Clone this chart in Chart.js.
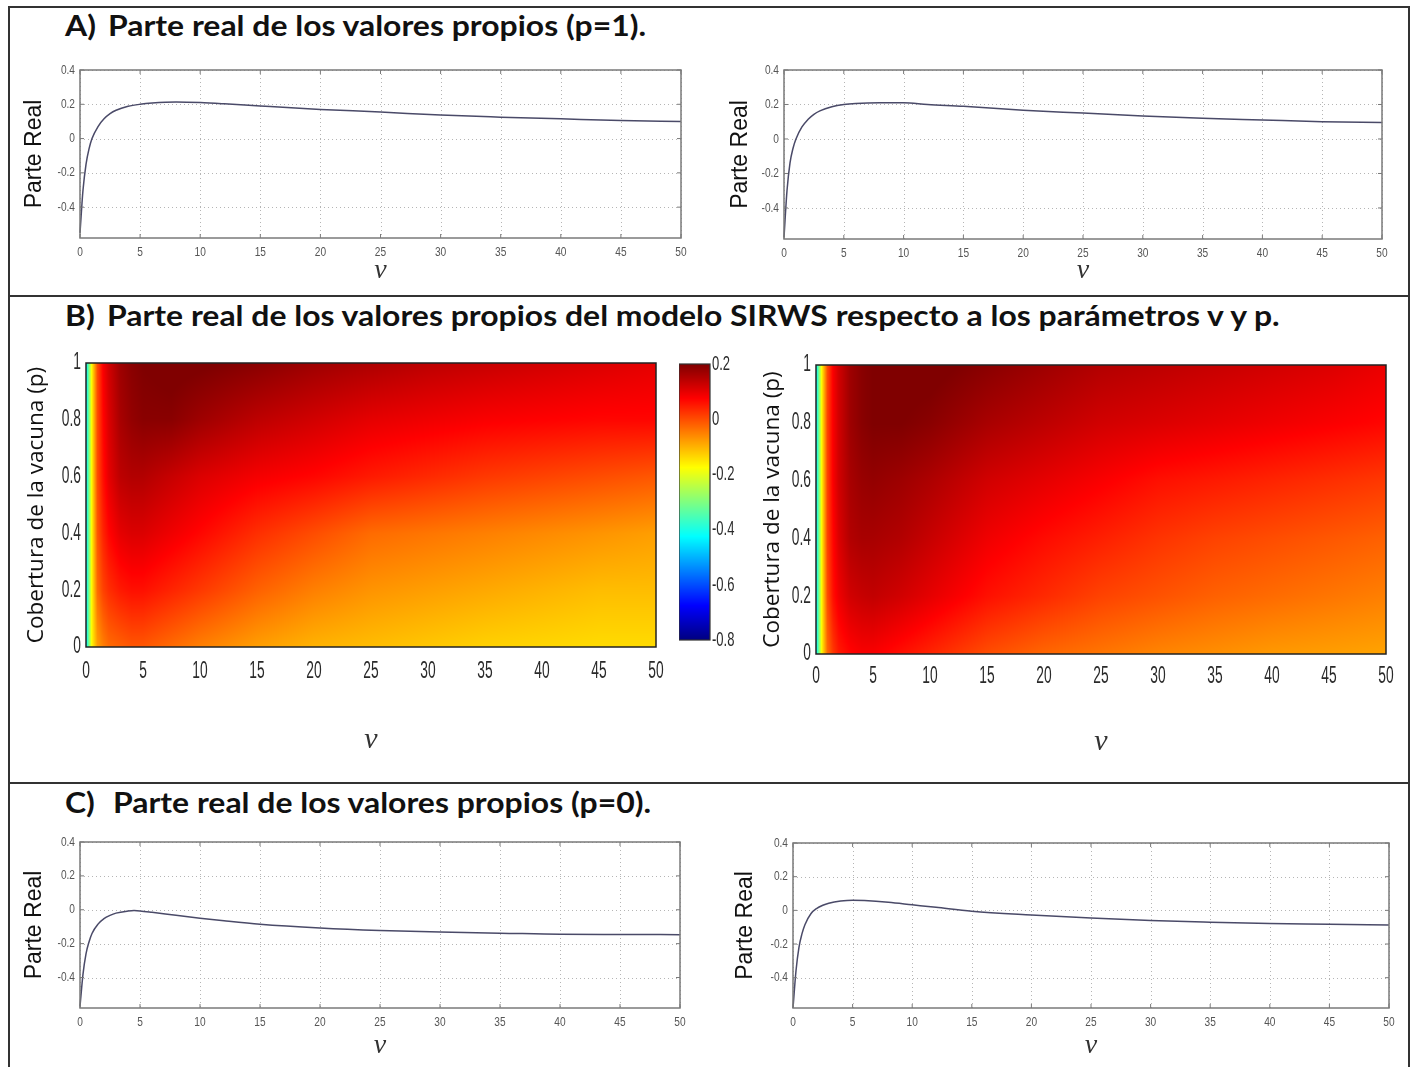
<!DOCTYPE html>
<html>
<head>
<meta charset="utf-8">
<script src="https://cdn.jsdelivr.net/npm/chart.js@4.4.0/dist/chart.umd.min.js"></script>
<style>
body { margin: 0; background: #fff; }
#page { position: relative; width: 1414px; height: 1067px; overflow: hidden; font-family: Lato, sans-serif; }
.frame { position: absolute; left: 8px; top: 6px; width: 1398px; height: 1100px; border: 2px solid #333; }
.rule { position: absolute; left: 8px; width: 1402px; height: 2px; background: #333; }
.ttl { position: absolute; font-weight: 700; font-size: 28px; line-height: 30px; color: #111; white-space: nowrap;
       transform: scaleX(1.14); transform-origin: 0 50%; }
canvas { position: absolute; }
</style>
</head>
<body>
<div id="page">
  <div class="frame"></div>
  <div class="rule" style="top:295px"></div>
  <div class="rule" style="top:782px"></div>

  <span class="ttl" style="left:65px;top:10px">A)</span>
  <span class="ttl" style="left:108px;top:10px">Parte real de los valores propios (p=1).</span>
  <span class="ttl" style="left:65px;top:300px">B)</span>
  <span class="ttl" style="left:107px;top:300px">Parte real de los valores propios del modelo SIRWS respecto a los parámetros v y p.</span>
  <span class="ttl" style="left:65px;top:787px">C)</span>
  <span class="ttl" style="left:113px;top:787px">Parte real de los valores propios (p=0).</span>

  <canvas id="lineA1"></canvas>
  <canvas id="lineA2"></canvas>
  <canvas id="heatB1"></canvas>
  <canvas id="barB1"></canvas>
  <canvas id="heatB2"></canvas>
  <canvas id="lineC1"></canvas>
  <canvas id="lineC2"></canvas>
</div>

<script>
// ticks
const vTicks = [0, 5, 10, 15, 20, 25, 30, 35, 40, 45, 50];
const realTicks = [-0.4, -0.2, 0, 0.2, 0.4];
const pTicks = [0, 0.2, 0.4, 0.6, 0.8, 1];
const colorTicks = [-0.8, -0.6, -0.4, -0.2, 0, 0.2];

// A) p=1
const vA = [0, 0.25, 0.5, 0.75, 1, 1.5, 2, 2.5, 3, 4, 5, 6, 8, 10, 12, 15, 20, 25, 30, 35, 40, 45, 50];
const reA1 = [-0.55, -0.3, -0.15, -0.06, 0.0, 0.07, 0.115, 0.145, 0.165, 0.188, 0.2, 0.207, 0.213, 0.21, 0.203, 0.19, 0.17, 0.155, 0.137, 0.125, 0.115, 0.105, 0.1];
const reA2 = [-0.57, -0.3, -0.14, -0.055, 0.0, 0.07, 0.113, 0.143, 0.163, 0.187, 0.2, 0.206, 0.21, 0.21, 0.2, 0.19, 0.167, 0.15, 0.133, 0.12, 0.11, 0.1, 0.095];

// C) p=0
const vC1 = [0, 0.25, 0.5, 0.75, 1, 1.5, 2, 2.5, 3, 4, 4.5, 5, 6, 8, 10, 12, 15, 20, 25, 30, 35, 40, 45, 50];
const reC1 = [-0.57, -0.38, -0.26, -0.19, -0.14, -0.085, -0.052, -0.033, -0.02, -0.008, -0.005, -0.007, -0.015, -0.033, -0.05, -0.065, -0.085, -0.107, -0.122, -0.132, -0.138, -0.145, -0.146, -0.147];
const vC2 = [0, 0.25, 0.5, 0.75, 1, 1.5, 2, 2.5, 3, 4, 5, 6, 8, 10, 12, 15, 20, 25, 30, 35, 40, 45, 50];
const reC2 = [-0.58, -0.36, -0.22, -0.14, -0.085, -0.02, 0.012, 0.03, 0.042, 0.055, 0.06, 0.058, 0.048, 0.033, 0.018, -0.005, -0.027, -0.045, -0.06, -0.07, -0.078, -0.082, -0.087];

// B) heatmaps, rows = heatP, columns = heatV
const heatV = [0, 0.5, 1, 1.5, 2, 3, 4, 5, 7.5, 10, 15, 20, 25, 30, 35, 40, 45, 50];
const heatP = [0, 0.2, 0.4, 0.6, 0.8, 1];
const heatLeft = [
  [-0.45, -0.17, -0.08, -0.05, -0.03, -0.02, -0.01, -0.01, -0.03, -0.05, -0.08, -0.10, -0.11, -0.12, -0.13, -0.135, -0.14, -0.14],
  [-0.45, -0.17, -0.03, 0.01, 0.03, 0.05, 0.06, 0.06, 0.04, 0.02, -0.02, -0.05, -0.07, -0.08, -0.09, -0.10, -0.11, -0.11],
  [-0.45, -0.17, -0.01, 0.04, 0.07, 0.10, 0.11, 0.11, 0.09, 0.07, 0.03, 0.00, -0.03, -0.04, -0.05, -0.06, -0.07, -0.08],
  [-0.45, -0.17, 0.00, 0.06, 0.10, 0.14, 0.15, 0.15, 0.13, 0.11, 0.085, 0.07, 0.05, 0.035, 0.02, 0.01, 0.00, -0.01],
  [-0.45, -0.17, 0.00, 0.07, 0.11, 0.16, 0.18, 0.19, 0.19, 0.17, 0.14, 0.12, 0.10, 0.09, 0.08, 0.075, 0.07, 0.07],
  [-0.45, -0.17, 0.00, 0.08, 0.12, 0.17, 0.19, 0.20, 0.21, 0.205, 0.19, 0.17, 0.155, 0.14, 0.13, 0.12, 0.11, 0.10]
];
const heatRight = [
  [-0.45, -0.17, -0.03, 0.02, 0.05, 0.07, 0.08, 0.08, 0.06, 0.04, 0.00, -0.025, -0.04, -0.055, -0.065, -0.075, -0.08, -0.085],
  [-0.45, -0.17, 0.00, 0.06, 0.09, 0.12, 0.13, 0.135, 0.12, 0.10, 0.06, 0.035, 0.01, -0.005, -0.02, -0.03, -0.04, -0.05],
  [-0.45, -0.17, 0.01, 0.07, 0.11, 0.15, 0.16, 0.16, 0.15, 0.13, 0.09, 0.065, 0.045, 0.025, 0.01, 0.00, -0.01, -0.02],
  [-0.45, -0.17, 0.01, 0.08, 0.12, 0.16, 0.175, 0.18, 0.17, 0.155, 0.12, 0.10, 0.08, 0.06, 0.05, 0.04, 0.03, 0.02],
  [-0.45, -0.17, 0.01, 0.08, 0.12, 0.17, 0.19, 0.20, 0.20, 0.19, 0.16, 0.14, 0.12, 0.11, 0.10, 0.09, 0.08, 0.07],
  [-0.45, -0.17, 0.00, 0.08, 0.12, 0.17, 0.19, 0.20, 0.21, 0.21, 0.19, 0.17, 0.15, 0.14, 0.13, 0.12, 0.11, 0.095]
];
const cMin = -0.8, cMax = 0.2;

const fmt = v => String(Math.round(v * 10) / 10);

function jet(t) {
  t = Math.max(0, Math.min(1, t));
  const c = k => Math.max(0, Math.min(1, 1.5 - Math.abs(4 * t - k)));
  return [c(3) * 255, c(2) * 255, c(1) * 255];
}

function sampleGrid(xs, ys, grid, x, y) {
  let i = 0, j = 0;
  while (i < xs.length - 2 && x > xs[i + 1]) i++;
  while (j < ys.length - 2 && y > ys[j + 1]) j++;
  const fx = Math.max(0, Math.min(1, (x - xs[i]) / (xs[i + 1] - xs[i])));
  const fy = Math.max(0, Math.min(1, (y - ys[j]) / (ys[j + 1] - ys[j])));
  const a = grid[j][i] * (1 - fx) + grid[j][i + 1] * fx;
  const b = grid[j + 1][i] * (1 - fx) + grid[j + 1][i + 1] * fx;
  return a * (1 - fy) + b * fy;
}

// dotted grid + box with inward tick marks, like matlab
const axesBox = {
  id: 'axesBox',
  beforeDatasetsDraw(chart, args, opts) {
    if (!opts.grid) return;
    const { ctx, chartArea: a, scales: { x, y } } = chart;
    ctx.save();
    ctx.strokeStyle = '#b5b5b5';
    ctx.lineWidth = 1;
    ctx.setLineDash([1, 3]);
    ctx.beginPath();
    x.ticks.forEach(t => {
      const px = Math.round(x.getPixelForValue(t.value)) + 0.5;
      ctx.moveTo(px, a.top); ctx.lineTo(px, a.bottom);
    });
    y.ticks.forEach(t => {
      const py = Math.round(y.getPixelForValue(t.value)) + 0.5;
      ctx.moveTo(a.left, py); ctx.lineTo(a.right, py);
    });
    ctx.stroke();
    ctx.restore();
  },
  afterDraw(chart, args, opts) {
    const { ctx, chartArea: a, scales } = chart;
    ctx.save();
    ctx.strokeStyle = opts.color || '#777';
    ctx.lineWidth = opts.width || 1.5;
    ctx.strokeRect(a.left, a.top, a.right - a.left, a.bottom - a.top);
    if (opts.ticks) {
      ctx.lineWidth = 1;
      ctx.beginPath();
      scales.x.ticks.forEach(t => {
        const px = scales.x.getPixelForValue(t.value);
        ctx.moveTo(px, a.bottom); ctx.lineTo(px, a.bottom - 4);
        ctx.moveTo(px, a.top); ctx.lineTo(px, a.top + 4);
      });
      scales.y.ticks.forEach(t => {
        const py = scales.y.getPixelForValue(t.value);
        ctx.moveTo(a.left, py); ctx.lineTo(a.left + 4, py);
        ctx.moveTo(a.right, py); ctx.lineTo(a.right - 4, py);
      });
      ctx.stroke();
    }
    ctx.restore();
  }
};

// narrow tick labels (matlab export looks squeezed)
const narrowTicks = {
  id: 'narrowTicks',
  afterDraw(chart, args, o) {
    const { ctx, chartArea: a, scales } = chart;
    ctx.save();
    ctx.fillStyle = o.color;
    ctx.font = o.size + "px 'Liberation Sans', Arial, sans-serif";
    ctx.textBaseline = 'middle';
    const put = (txt, px, py, align) => {
      ctx.save();
      ctx.translate(px, py);
      ctx.scale(o.sx, 1);
      ctx.textAlign = align;
      ctx.fillText(txt, 0, 0);
      ctx.restore();
    };
    if (o.xGap != null) {
      scales.x.ticks.forEach(t => put(fmt(t.value), scales.x.getPixelForValue(t.value), a.bottom + o.xGap, 'center'));
    }
    if (o.yGap != null) {
      scales.y.ticks.forEach(t => {
        const py = scales.y.getPixelForValue(t.value);
        if (o.side === 'right') put(fmt(t.value), a.right + o.yGap, py, 'left');
        else put(fmt(t.value), a.left - o.yGap, py, 'right');
      });
    }
    ctx.restore();
  }
};

// interpolated colour field drawn through the chart scales
const heatLayer = {
  id: 'heatLayer',
  beforeDatasetsDraw(chart, args, opts) {
    if (!opts.mode) return;
    const { ctx, chartArea: a, scales: { x, y } } = chart;
    const w = Math.round(a.right - a.left), h = Math.round(a.bottom - a.top);
    const off = document.createElement('canvas');
    off.width = w; off.height = h;
    const octx = off.getContext('2d');
    const img = octx.createImageData(w, h);
    const cols = [];
    for (let i = 0; i < w; i++) cols.push(opts.mode === 'field' ? x.getValueForPixel(a.left + i + 0.5) : 0);
    for (let j = 0; j < h; j++) {
      const yv = y.getValueForPixel(a.top + j + 0.5);
      for (let i = 0; i < w; i++) {
        const val = opts.mode === 'field' ? sampleGrid(opts.xs, opts.ys, opts.grid, cols[i], yv) : yv;
        const rgb = jet((val - cMin) / (cMax - cMin));
        const k = (j * w + i) * 4;
        img.data[k] = rgb[0]; img.data[k + 1] = rgb[1]; img.data[k + 2] = rgb[2]; img.data[k + 3] = 255;
      }
    }
    octx.putImageData(img, 0, 0);
    ctx.drawImage(off, a.left, a.top);
  }
};

function place(id, pos) {
  const c = document.getElementById(id);
  c.width = pos.yw + pos.w + pos.pr;
  c.height = pos.pt + pos.h + pos.xh;
  c.style.left = (pos.l - pos.yw) + 'px';
  c.style.top = (pos.t - pos.pt) + 'px';
  return c;
}

function lineChart(id, xs, ys, pos) {
  const c = place(id, pos);
  return new Chart(c, {
    type: 'line',
    data: {
      datasets: [{
        data: xs.map((x, i) => ({ x: x, y: ys[i] })),
        borderColor: '#4a4a68',
        borderWidth: 1.5,
        pointRadius: 0,
        cubicInterpolationMode: 'monotone',
        clip: false
      }]
    },
    plugins: [axesBox, narrowTicks],
    options: {
      responsive: false,
      animation: false,
      devicePixelRatio: 1,
      layout: { padding: { top: pos.pt, right: pos.pr, left: 0, bottom: 0 } },
      plugins: {
        legend: { display: false },
        tooltip: { enabled: false },
        axesBox: { grid: true, ticks: true, color: '#7a7a7a', width: 1.5 },
        narrowTicks: { size: 13, sx: 0.78, color: '#555', xGap: 14, yGap: 5 }
      },
      scales: {
        x: {
          type: 'linear', min: 0, max: 50,
          afterBuildTicks: s => { s.ticks = vTicks.map(v => ({ value: v })); },
          afterFit: s => { s.height = pos.xh; },
          grid: { display: false, drawTicks: false },
          border: { display: false },
          ticks: { display: false },
          title: {
            display: true, text: 'v', color: '#333',
            font: { family: "'Liberation Serif', serif", style: 'italic', size: 28, lineHeight: 1 },
            padding: { top: 0, bottom: pos.vPad }
          }
        },
        y: {
          type: 'linear', min: -0.58, max: 0.4,
          afterBuildTicks: s => { s.ticks = realTicks.map(v => ({ value: v })); },
          afterFit: s => { s.width = pos.yw; },
          grid: { display: false, drawTicks: false },
          border: { display: false },
          ticks: { display: false },
          title: {
            display: true, text: 'Parte Real', color: '#111',
            font: { family: "'Liberation Sans', Arial, sans-serif", size: 23, lineHeight: 1 },
            padding: { top: pos.yPad, bottom: 0 }
          }
        }
      }
    }
  });
}

function heatChart(id, grid, pos) {
  const c = place(id, pos);
  const nodes = [];
  heatP.forEach((p, j) => heatV.forEach((v, i) => nodes.push({ x: v, y: p, z: grid[j][i] })));
  return new Chart(c, {
    type: 'scatter',
    data: { datasets: [{ data: nodes, pointRadius: 0 }] },
    plugins: [heatLayer, axesBox, narrowTicks],
    options: {
      responsive: false,
      animation: false,
      devicePixelRatio: 1,
      layout: { padding: { top: pos.pt, right: pos.pr, left: 0, bottom: 0 } },
      plugins: {
        legend: { display: false },
        tooltip: { enabled: false },
        heatLayer: { mode: 'field', xs: heatV, ys: heatP, grid: grid },
        axesBox: { grid: false, ticks: false, color: '#222', width: 1.5 },
        narrowTicks: { size: 23, sx: 0.6, color: '#2a2a2a', xGap: pos.xGap, yGap: 5 }
      },
      scales: {
        x: {
          type: 'linear', min: 0, max: 50,
          afterBuildTicks: s => { s.ticks = vTicks.map(v => ({ value: v })); },
          afterFit: s => { s.height = pos.xh; },
          grid: { display: false, drawTicks: false },
          border: { display: false },
          ticks: { display: false },
          title: {
            display: true, text: 'v', color: '#333',
            font: { family: "'Liberation Serif', serif", style: 'italic', size: 30, lineHeight: 1 },
            padding: { top: 0, bottom: pos.vPad }
          }
        },
        y: {
          type: 'linear', min: 0, max: 1,
          afterBuildTicks: s => { s.ticks = pTicks.map(v => ({ value: v })); },
          afterFit: s => { s.width = pos.yw; },
          grid: { display: false, drawTicks: false },
          border: { display: false },
          ticks: { display: false },
          title: {
            display: true, text: 'Cobertura de la vacuna (p)', color: '#111',
            font: { family: "'Open Sans', sans-serif", size: 22.5, lineHeight: 1 },
            padding: { top: pos.yPad, bottom: 0 }
          }
        }
      }
    }
  });
}

function colorBar(id, pos) {
  const c = document.getElementById(id);
  c.width = pos.w + pos.yw;
  c.height = pos.pt + pos.h + pos.pt;
  c.style.left = pos.l + 'px';
  c.style.top = (pos.t - pos.pt) + 'px';
  return new Chart(c, {
    type: 'scatter',
    data: { datasets: [{ data: colorTicks.map(v => ({ x: 0, y: v })), pointRadius: 0 }] },
    plugins: [heatLayer, axesBox, narrowTicks],
    options: {
      responsive: false,
      animation: false,
      devicePixelRatio: 1,
      layout: { padding: { top: pos.pt, bottom: pos.pt, left: 0, right: 0 } },
      plugins: {
        legend: { display: false },
        tooltip: { enabled: false },
        heatLayer: { mode: 'bar' },
        axesBox: { grid: false, ticks: false, color: '#333', width: 1.2 },
        narrowTicks: { size: 21, sx: 0.62, color: '#2a2a2a', yGap: 2, side: 'right' }
      },
      scales: {
        x: { display: false, min: 0, max: 1 },
        y: {
          position: 'right', min: cMin, max: cMax,
          afterBuildTicks: s => { s.ticks = colorTicks.map(v => ({ value: v })); },
          afterFit: s => { s.width = pos.yw; },
          grid: { display: false, drawTicks: false },
          border: { display: false },
          ticks: { display: false }
        }
      }
    }
  });
}

lineChart('lineA1', vA, reA1, { l: 80, t: 70, w: 601, h: 168, yw: 60, pt: 10, pr: 22, xh: 52, vPad: 5, yPad: 3.5 });
lineChart('lineA2', vA, reA2, { l: 784, t: 70, w: 598, h: 169, yw: 60, pt: 10, pr: 20, xh: 52, vPad: 6, yPad: 5.5 });
lineChart('lineC1', vC1, reC1, { l: 80, t: 842, w: 600, h: 166, yw: 60, pt: 10, pr: 22, xh: 52, vPad: 0, yPad: 3.5 });
lineChart('lineC2', vC2, reC2, { l: 793, t: 843, w: 596, h: 165, yw: 60, pt: 10, pr: 20, xh: 52, vPad: 0, yPad: 1.5 });

heatChart('heatB1', heatLeft, { l: 86, t: 363, w: 570, h: 284, yw: 66, pt: 15, pr: 20, xh: 110, xGap: 25, vPad: 2, yPad: 5.5 });
heatChart('heatB2', heatRight, { l: 816, t: 365, w: 570, h: 289, yw: 60, pt: 15, pr: 22, xh: 105, xGap: 23, vPad: 2, yPad: 5.5 });
colorBar('barB1', { l: 679, t: 364, w: 31, h: 276, yw: 50, pt: 15 });
</script>
</body>
</html>
